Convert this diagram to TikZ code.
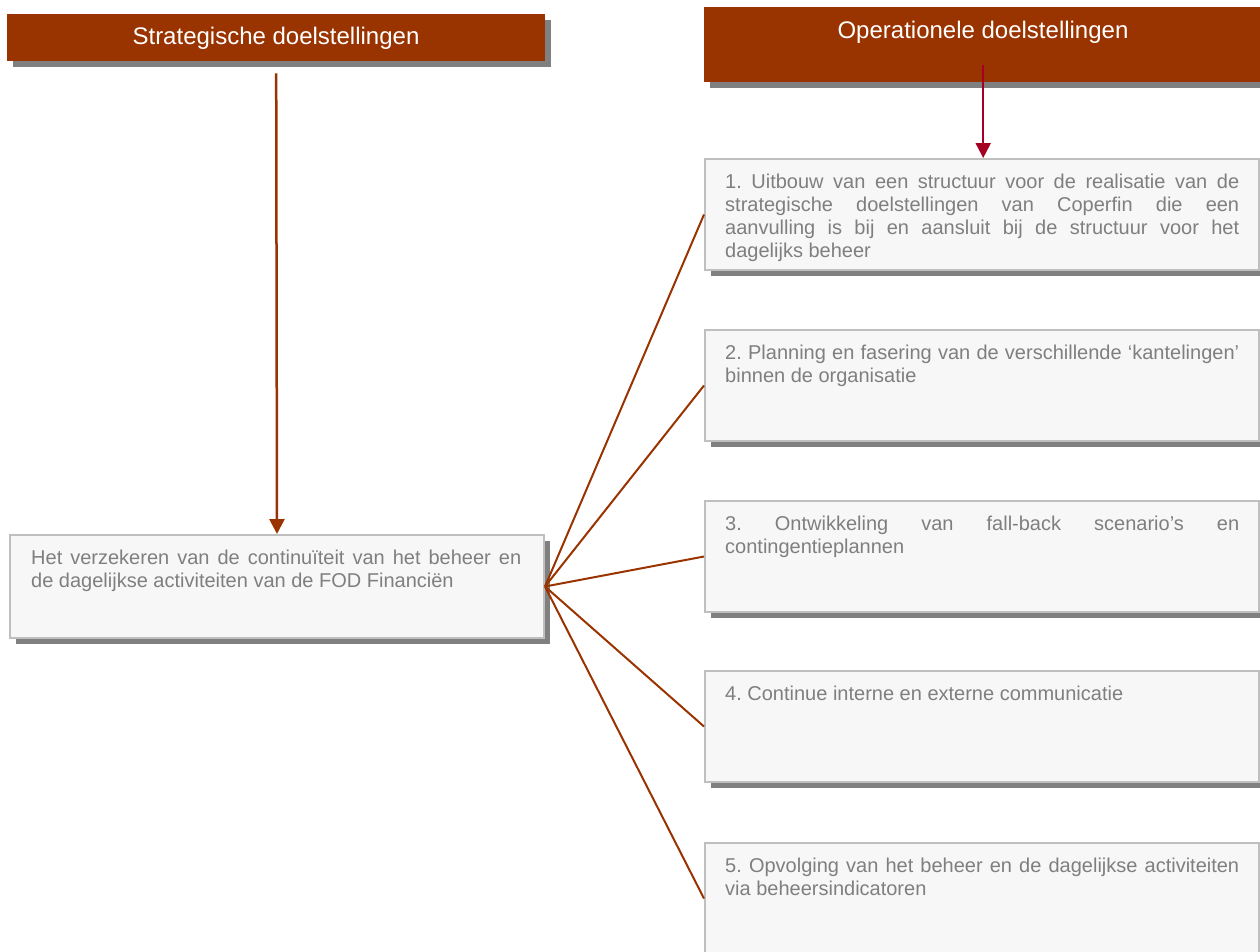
\documentclass[tikz,border=0pt]{standalone}
\usepackage{fontspec}
\setmainfont{Liberation Sans}
\usetikzlibrary{arrows.meta,shadows,calc}
\definecolor{hdrc}{HTML}{993300}
\definecolor{crim}{HTML}{A50021}
\definecolor{shd}{HTML}{808080}
\definecolor{bfill}{HTML}{F7F7F7}
\definecolor{bdraw}{HTML}{BFBFBF}
\definecolor{txtc}{HTML}{7F7F7F}
\newcommand{\bodyfont}{\fontsize{20}{23}\selectfont}
\begin{document}
\frenchspacing
\hyphenpenalty=10000
\exhyphenpenalty=10000
\tolerance=9999
\hbadness=10000
\lefthyphenmin=62
\begin{tikzpicture}[x=1pt,y=-1pt,
  shad/.style={drop shadow={shadow xshift=6pt, shadow yshift=-6pt, fill=shd, opacity=1}},
  hdrbox/.style={fill=hdrc, shad, inner sep=0pt, anchor=north west, text=white,
    font=\fontsize{24}{28}\selectfont},
  gbox/.style={draw=bdraw, line width=2pt, fill=bfill, shad, inner sep=0pt, anchor=north west,
    minimum width=554pt, minimum height=111pt},
  btext/.style={font=\bodyfont, text=txtc, text width=514pt, align=justify,
    inner sep=0pt, anchor=base west},
  conn/.style={draw=hdrc, line width=2pt},
  arrbrown/.style={draw=hdrc, line width=2.5pt, -{Triangle[width=15pt,length=15pt]}},
  arrcrim/.style={draw=crim, line width=2pt, -{Triangle[width=15pt,length=15pt]}}
]
\useasboundingbox (0,0) rectangle (1260,951);

% headers
\node[hdrbox, minimum width=538pt, minimum height=47pt] (h1) at (7,14) {};
\node[font=\fontsize{24}{28}\selectfont, text=white, inner sep=0pt] (h1t) at (276,38) {Strategische doelstellingen};
\node[hdrbox, minimum width=558pt, minimum height=75pt] (h2) at (704,7) {};
\node[font=\fontsize{24}{28}\selectfont, text=white, inner sep=0pt] (h2t) at (983,32) {Operationele doelstellingen};

% main box
\node[gbox, minimum width=534pt, minimum height=103pt] (m) at (9,534) {};
\node[btext, text width=490pt] (mt) at (31,564) {Het verzekeren van de continuïteit van het beheer en\linebreak de dagelijkse activiteiten van de FOD Financiën};

% right boxes
\node[gbox] (b1) at (704,158) {};
\node[gbox] (b2) at (704,329) {};
\node[gbox] (b3) at (704,500) {};
\node[gbox] (b4) at (704,670) {};
\node[gbox] (b5) at (704,842) {};

\begin{scope}
\clip (705,159) rectangle (1257,261);
\node[btext] (t1) at (725,188) {1. Uitbouw van een structuur voor de realisatie van de\linebreak strategische doelstellingen van Coperfin die een\linebreak aanvulling is bij en aansluit bij de structuur voor het\linebreak dagelijks beheer};
\end{scope}
\node[btext] (t2) at (725,359) {2. Planning en fasering van de verschillende ‘kantelingen’\linebreak binnen de organisatie};
\node[btext] (t3) at (725,530) {3. Ontwikkeling van fall-back scenario’s en\linebreak contingentieplannen};
\node[btext] (t4) at (725,700) {4. Continue interne en externe communicatie};
\node[btext] (t5) at (725,872) {5. Opvolging van het beheer en de dagelijkse activiteiten\linebreak via beheersindicatoren};

% arrows
\draw[arrbrown] ([yshift=-12pt]h1.south) -- (m.north);
\draw[arrcrim] ([yshift=17pt]h2.south) -- (b1.north -| h2.south);

% connectors
\foreach \b in {b1,b2,b3,b4,b5}
  \draw[conn] (m.east) -- (\b.west);
\end{tikzpicture}
\end{document}
